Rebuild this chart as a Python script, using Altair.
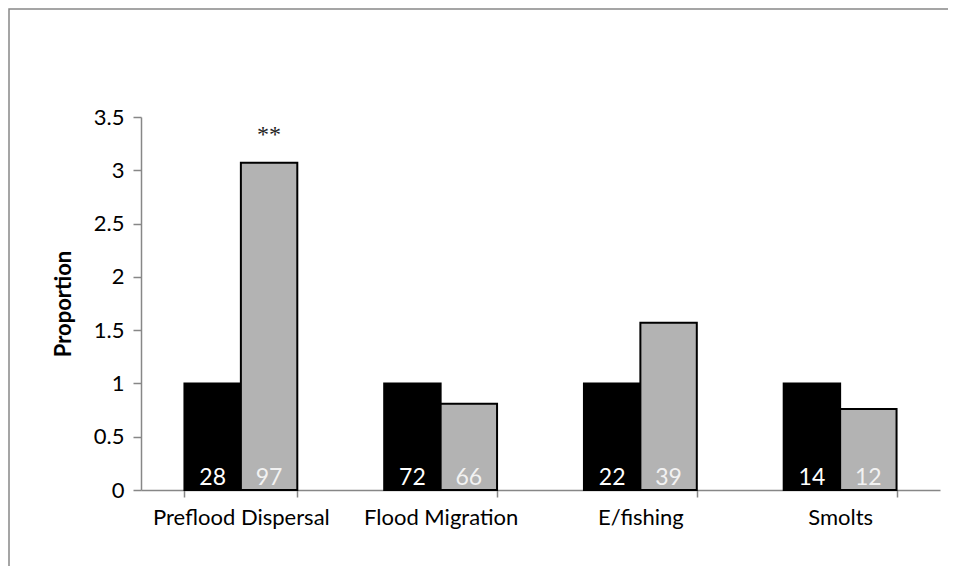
import altair as alt
import pandas as pd

categories = ["Preflood Dispersal", "Flood Migration", "E/fishing", "Smolts"]
groups = ["A", "B"]
black_values = [1.0, 1.0, 1.0, 1.0]
gray_values = [3.07, 0.81, 1.57, 0.76]
black_n = [28, 72, 22, 14]
gray_n = [97, 66, 39, 12]
y_ticks = [0, 0.5, 1, 1.5, 2, 2.5, 3, 3.5]
sig_category = "Preflood Dispersal"
sig_label = "**"
sig_y = 3.33

rows = []
for c, bv, gv, bn, gn in zip(categories, black_values, gray_values, black_n, gray_n):
    rows.append({"cat": c, "grp": "A", "value": bv, "n": str(bn), "zero": 0})
    rows.append({"cat": c, "grp": "B", "value": gv, "n": str(gn), "zero": 0})
df = pd.DataFrame(rows)
sig_df = pd.DataFrame([{"cat": sig_category, "grp": "B", "y": sig_y, "label": sig_label}])

W, H = 799, 373
PL, PT, PR, PB = 133, 109, 8, 76
FONT = "Lato"

xscale = alt.Scale(domain=categories, paddingInner=0.435, paddingOuter=0.2175)
xoff = alt.XOffset("grp:N", scale=alt.Scale(domain=groups, paddingInner=0, paddingOuter=0))
yscale = alt.Scale(domain=[0, 3.5], nice=False, zero=True)

x_enc = alt.X(
    "cat:N", sort=categories, scale=xscale, title=None,
    axis=alt.Axis(
        tickBand="extent", labelAngle=0, labelFontSize=22, labelFont=FONT,
        labelColor="#000000", labelPadding=10, domainColor="#878787",
        domainWidth=1.5, tickColor="#878787", tickWidth=1.5, tickSize=7,
    ),
)
y_enc = alt.Y(
    "value:Q", scale=yscale, title="Proportion",
    axis=alt.Axis(
        values=y_ticks, format="~g", grid=False, labelFontSize=22, labelFont=FONT,
        labelColor="#000000", labelPadding=9, domainColor="#878787", domainWidth=1.5,
        tickColor="#878787", tickWidth=1.5, tickSize=8, titleFont=FONT,
        titleFontSize=22, titleFontWeight="bold", titleColor="#000000", titlePadding=18,
    ),
)

bars = alt.Chart(df).mark_bar(stroke="#000000", strokeWidth=2).encode(
    x=x_enc,
    xOffset=xoff,
    y=y_enc,
    color=alt.Color("grp:N", scale=alt.Scale(domain=groups, range=["#000000", "#b3b3b3"]), legend=None),
)

labels = alt.Chart(df).mark_text(fontSize=23, font=FONT, baseline="bottom", dy=0).encode(
    x=alt.X("cat:N", sort=categories, scale=xscale),
    xOffset=xoff,
    y=alt.Y("zero:Q", scale=yscale),
    text="n:N",
    color=alt.condition(alt.datum.grp == "A", alt.value("#ffffff"), alt.value("#f2f2f2")),
)

sig = alt.Chart(sig_df).mark_text(fontSize=24, font="Liberation Serif", color="#222222", baseline="middle").encode(
    x=alt.X("cat:N", sort=categories, scale=xscale),
    xOffset=alt.XOffset("grp:N", scale=alt.Scale(domain=groups, paddingInner=0, paddingOuter=0)),
    y=alt.Y("y:Q", scale=yscale),
    text="label:N",
)

frame_data = alt.Data(values=[{"a": 1}])
frame = alt.Chart(frame_data).mark_rect(fill="transparent", stroke="#888888", strokeWidth=1.5).encode(
    x=alt.value(-PL + 1), x2=alt.value(W + 100), y=alt.value(-PT + 1), y2=alt.value(H + 200)
)

chart = alt.layer(frame, bars, labels, sig).properties(
    width=W, height=H,
    autosize=alt.AutoSizeParams(type="none"),
    padding={"left": PL, "top": PT, "right": PR, "bottom": PB},
).configure(background="#ffffff").configure_view(stroke=None)

chart.save("out.html", embed_options={"renderer": "svg", "actions": False})
